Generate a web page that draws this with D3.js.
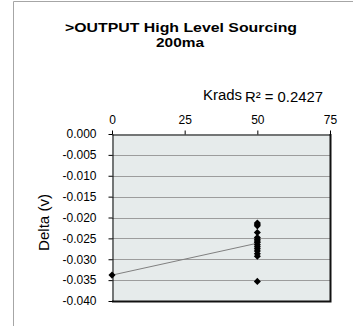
<!DOCTYPE html>
<html><head><meta charset="utf-8">
<script src="https://cdn.jsdelivr.net/npm/d3@7"></script>
<style>body{margin:0;background:#fff}svg{display:block;font-family:"Liberation Sans",Arial,sans-serif}</style>
</head><body><svg id="c" width="353" height="326"></svg>
<script>
const titleLines = [">OUTPUT High Level Sourcing", "200ma"];
const seriesName = "Krads";
const r2Label = "R² = 0.2427";
const yAxisTitle = "Delta (v)";
const xValues = [0, 50, 50, 50, 50, 50, 50, 50, 50, 50, 50, 50, 50, 50, 50, 50];
const yValues = [-0.0338, -0.0213, -0.0216, -0.0220, -0.0236, -0.0248, -0.0252, -0.0256, -0.0260, -0.0265, -0.0270, -0.0275, -0.0280, -0.0287, -0.0293, -0.0353];
const xTicks = [0, 25, 50, 75];
const yTicks = [0, -0.005, -0.010, -0.015, -0.020, -0.025, -0.030, -0.035, -0.040];

const svg = d3.select("#c");
const L = 112, R = 330, T = 134, B = 301;
const x = d3.scaleLinear().domain([0, 75]).range([L, R]);
const y = d3.scaleLinear().domain([0, -0.04]).range([T, B]);

// outer frame
svg.append("path").attr("d", "M13.5,326V1.5H353").attr("fill", "none").attr("stroke", "#a6a6a6");

// title
svg.append("text").attr("x", 181).attr("y", 32).attr("text-anchor", "middle")
  .attr("font-size", 13).attr("font-weight", "bold").attr("textLength", 232).attr("lengthAdjust", "spacingAndGlyphs").text(titleLines[0]);
svg.append("text").attr("x", 180).attr("y", 47).attr("text-anchor", "middle")
  .attr("font-size", 13).attr("font-weight", "bold").attr("textLength", 48).attr("lengthAdjust", "spacingAndGlyphs").text(titleLines[1]);

// legend/R2 labels
svg.append("text").attr("x", 203).attr("y", 100).attr("font-size", 14).attr("textLength", 39).attr("lengthAdjust", "spacingAndGlyphs").text(seriesName);
svg.append("text").attr("x", 245).attr("y", 102).attr("font-size", 14).attr("textLength", 78).attr("lengthAdjust", "spacingAndGlyphs").text(r2Label);

// plot area
svg.append("rect").attr("x", L).attr("y", T).attr("width", R - L).attr("height", B - T).attr("fill", "#e6ebeb");
svg.append("g").selectAll("line").data(yTicks.slice(1, -1)).join("line")
  .attr("x1", L).attr("x2", R).attr("y1", d => Math.round(y(d)) + 0.5).attr("y2", d => Math.round(y(d)) + 0.5)
  .attr("stroke", "#9c9c9c");

// border right & bottom
svg.append("path").attr("d", `M${L},${B + 0.5}H${R + 0.5}V${T}`).attr("fill", "none").attr("stroke", "#111").attr("stroke-width", 2);

// axes
const yAxis = d3.axisLeft(y).tickValues(yTicks).tickSize(4).tickSizeOuter(0);
const gy = svg.append("g").attr("transform", `translate(${L + 0.5},0)`).call(yAxis);
gy.selectAll("text").attr("font-size", 12).attr("fill", "#000").attr("font-family", "Liberation Sans, Arial")
  .attr("x", -16).text(d => d3.format(".3f")(d).replace("−", "-"));
gy.select(".domain").attr("stroke", "#000");
const xAxis = d3.axisTop(x).tickValues(xTicks).tickSize(4).tickSizeOuter(0);
const gx = svg.append("g").attr("transform", `translate(0,${T + 0.5})`).call(xAxis);
gx.selectAll("text").attr("font-size", 12).attr("fill", "#000").attr("font-family", "Liberation Sans, Arial").attr("y", -11);
gx.select(".domain").attr("stroke", "#000");

// trendline (linear regression)
const n = xValues.length;
const mx = d3.mean(xValues), my = d3.mean(yValues);
let sxy = 0, sxx = 0;
for (let i = 0; i < n; i++) { sxy += (xValues[i] - mx) * (yValues[i] - my); sxx += (xValues[i] - mx) ** 2; }
const slope = sxy / sxx, icpt = my - slope * mx;
const xr = d3.extent(xValues);
svg.append("line").attr("x1", x(xr[0])).attr("x2", x(xr[1]))
  .attr("y1", y(icpt + slope * xr[0])).attr("y2", y(icpt + slope * xr[1]))
  .attr("stroke", "#808080").attr("stroke-width", 1);

// markers
const sym = d3.symbol().type(d3.symbolDiamond2).size(32);
svg.append("g").selectAll("path").data(xValues.map((v, i) => [v, yValues[i]])).join("path")
  .attr("transform", d => `translate(${x(d[0])},${y(d[1])})`).attr("d", sym).attr("fill", "#000");

// y title
svg.append("text").attr("transform", "translate(48.5,222.5) rotate(-90)").attr("text-anchor", "middle")
  .attr("font-size", 14).attr("textLength", 57).attr("lengthAdjust", "spacingAndGlyphs").text(yAxisTitle);
</script></body></html>
